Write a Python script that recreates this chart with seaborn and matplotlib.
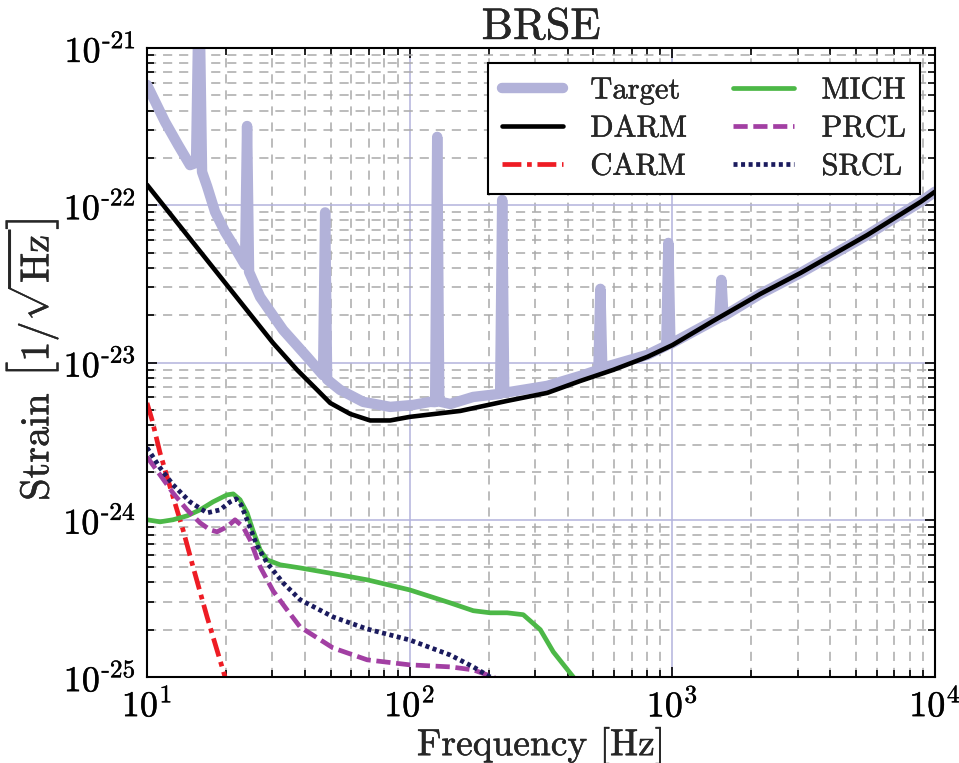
import numpy as np
import pandas as pd
import matplotlib
matplotlib.use("Agg")
import matplotlib.pyplot as plt
import matplotlib.patheffects as pe
import seaborn as sns
from matplotlib.ticker import LogLocator, FuncFormatter, NullFormatter

# ---------------------------------------------------------------- data
# Sensitivity target (with narrow resonance lines)
target_freq = [10.0, 11.71, 13.13, 14.58, 15.37, 15.78, 16.2, 16.93, 18.16, 19.82, 21.63,
               23.62, 24.04, 24.46, 26.95, 32.97, 40.7, 46.8, 47.66, 48.5, 54.3,
               66.5, 84.3, 103.1, 119.7, 125.0, 127.3, 129.6, 142.7, 174.6, 221.0, 225.0,
               229.0, 334.0, 447.0, 523.0, 532.0, 541.0, 803.0, 948.0, 965.5, 983.0,
               1510.0, 1537.0, 1565.0, 2163.0, 3076.0, 5533.0, 8810.0, 10000.0]
target_strain = [5.82e-22, 3.39e-22, 2.42e-22, 1.80e-22, 1.86e-22, 3.0e-21, 1.63e-22, 1.32e-22, 9.07e-23,
                 6.77e-23, 5.35e-23,
                 4.17e-23, 3.19e-22, 3.77e-23, 2.61e-23, 1.61e-23, 1.086e-23, 8.3e-24, 9.0e-23, 7.8e-24, 6.70e-24,
                 5.62e-24, 5.22e-24, 5.37e-24, 5.62e-24, 5.6e-24, 2.72e-22, 5.65e-24, 5.45e-24, 6.04e-24, 6.32e-24,
                 1.08e-22,
                 6.41e-24, 7.10e-24, 8.22e-24, 8.97e-24, 2.94e-23, 9.24e-24, 1.118e-23, 1.28e-23, 5.76e-23, 1.31e-23,
                 1.93e-23, 3.35e-23, 1.97e-23, 2.73e-23, 3.71e-23, 6.48e-23, 1.05e-22, 1.22e-22]

darm_freq = [10.0, 30.2, 37.27, 44.42, 49.79, 59.34, 70.7, 84.3, 100.0, 155.8, 235.0,
             334.0, 447.0, 596.0, 803.0, 1000.0, 1432.0, 2163.0, 3076.0, 5533.0, 8810.0, 10000.0]
darm_strain = [1.35e-22, 1.33e-23, 8.97e-24, 6.70e-24, 5.53e-24, 4.71e-24, 4.28e-24, 4.28e-24, 4.51e-24,
               4.92e-24, 5.70e-24, 6.41e-24, 7.64e-24, 8.98e-24, 1.086e-23, 1.29e-23, 1.84e-23,
               2.73e-23, 3.71e-23, 6.48e-23, 1.05e-22, 1.22e-22]

carm_freq = [10.0, 10.45, 11.21, 12.56, 13.71, 14.97, 16.93, 19.82, 21.08]
carm_strain = [5.53e-24, 4.32e-24, 2.66e-24, 1.40e-24, 8.63e-25, 5.02e-25, 2.41e-25, 1.0e-25, 7.2e-26]

mich_freq = [10.0, 11.21, 12.56, 14.21, 15.92, 17.84, 20.17, 21.3, 22.61, 24.04, 25.34, 26.95,
             28.65, 32.12, 38.28, 54.3, 68.9, 100.0, 142.7, 174.6, 202.6, 235.0, 270.6, 314.2,
             352.1, 419.6, 454.0]
mich_strain = [1.0e-24, 9.70e-25, 1.0e-24, 1.059e-24, 1.156e-24, 1.30e-24, 1.44e-24, 1.46e-24, 1.34e-24,
               1.106e-24, 8.50e-25, 6.44e-25, 5.56e-25, 5.17e-25, 4.94e-25, 4.46e-25, 4.15e-25, 3.58e-25,
               2.96e-25, 2.64e-25, 2.56e-25, 2.56e-25, 2.49e-25, 2.0e-25, 1.446e-25, 1.0e-25, 8.29e-26]

prcl_freq = [10.0, 11.21, 12.56, 14.21, 15.92, 17.38, 18.48, 20.17, 21.63, 23.21, 24.69, 26.95,
             30.2, 34.15, 38.28, 51.1, 68.9, 100.0, 142.7, 174.6, 208.0, 231.0]
prcl_strain = [2.51e-24, 1.93e-24, 1.48e-24, 1.156e-24, 9.56e-25, 8.63e-25, 8.38e-25, 9.02e-25, 9.99e-25,
               9.02e-25, 7.45e-25, 5.02e-25, 3.53e-25, 2.67e-25, 2.08e-25, 1.53e-25, 1.286e-25, 1.195e-25,
               1.16e-25, 1.11e-25, 1.0e-25, 8.92e-26]

srcl_freq = [10.0, 11.21, 12.56, 14.58, 16.93, 18.97, 20.72, 21.83, 22.81, 24.04, 26.24, 28.65,
             32.97, 38.28, 51.1, 68.9, 100.0, 142.7, 174.6, 202.6, 221.0]
srcl_strain = [2.87e-24, 2.14e-24, 1.67e-24, 1.30e-24, 1.106e-24, 1.156e-24, 1.30e-24, 1.358e-24, 1.244e-24,
               1.0e-24, 6.83e-25, 5.32e-25, 3.97e-25, 3.10e-25, 2.41e-25, 2.02e-25, 1.72e-25, 1.38e-25,
               1.16e-25, 1.0e-25, 9.05e-26]

x_ticks = [1e1, 1e2, 1e3, 1e4]
y_ticks = [1e-25, 1e-24, 1e-23, 1e-22, 1e-21]

# ---------------------------------------------------------------- style
sns.set_theme(style="ticks")
plt.rcParams.update({
    "font.family": "serif",
    "font.serif": ["cmr10"],
    "mathtext.fontset": "cm",
    "axes.unicode_minus": False,
    "axes.formatter.use_mathtext": True,
    "axes.linewidth": 1.5,
    "axes.edgecolor": "black",
})

fig = plt.figure(figsize=(9.59, 7.63), dpi=100)
ax = fig.add_axes([0.1533, 0.1127, 0.8217, 0.8244])
ax.set_axisbelow(True)

series = [
    ("Target", target_freq, target_strain,
     dict(color="#b2b2d9", lw=7.5, solid_joinstyle="round", solid_capstyle="round")),
    ("DARM", darm_freq, darm_strain, dict(color="black", lw=3.3)),
    ("CARM", carm_freq, carm_strain,
     dict(color="#ee1c24", lw=3.4, linestyle=(0, (4.0, 1.2, 1.0, 1.2)))),
    ("MICH", mich_freq, mich_strain, dict(color="#4cb847", lw=3.4)),
    ("PRCL", prcl_freq, prcl_strain,
     dict(color="#a23fa3", lw=3.4, linestyle=(0, (3.0, 1.2)))),
    ("SRCL", srcl_freq, srcl_strain,
     dict(color="#1b1b5e", lw=3.4, linestyle=(0, (0.85, 0.75)), dash_capstyle="butt")),
]

for name, fr, st, kw in series:
    df = pd.DataFrame({"freq": fr, "strain": st})
    sns.lineplot(data=df, x="freq", y="strain", ax=ax, label=name,
                 estimator=None, sort=False, **kw)

ax.set_xscale("log")
ax.set_yscale("log")
ax.set_xlim(10, 1e4)
ax.set_ylim(1e-25, 1e-21)


def pow_label(v, pos):
    e = int(round(np.log10(v)))
    if e < 0:
        return r"$10^{\text{-}%d}$" % (-e)
    return r"$10^{%d}$" % e


ax.xaxis.set_minor_locator(LogLocator(base=10, subs=np.arange(2, 10)))
ax.yaxis.set_minor_locator(LogLocator(base=10, subs=np.arange(2, 10)))
ax.set_xticks(x_ticks)
ax.set_yticks(y_ticks)
ax.xaxis.set_major_formatter(FuncFormatter(pow_label))
ax.yaxis.set_major_formatter(FuncFormatter(pow_label))
ax.xaxis.set_minor_formatter(NullFormatter())
ax.yaxis.set_minor_formatter(NullFormatter())

ax.tick_params(which="both", direction="in", top=True, right=True,
               colors="black", width=1.2, labelsize=26)
ax.tick_params(which="major", length=7, pad=8)
ax.tick_params(which="minor", length=5)

ax.grid(which="major", color="#b3b3dd", lw=1.1, ls="-")
ax.grid(which="minor", color="#aaaaaa", lw=1.1, ls=(0, (6, 4.5)))

ax.set_xlabel("Frequency [Hz]", fontsize=27, labelpad=2)
ax.set_ylabel(r"Strain $\left[1/\sqrt{\mathrm{Hz}}\right]$", fontsize=29, labelpad=2)
ax.set_title("BRSE", fontsize=32, pad=5)

leg = ax.legend(loc="upper right", ncol=2, fontsize=22, frameon=True,
                fancybox=False, framealpha=1.0, edgecolor="black",
                handlelength=2.0, handletextpad=0.9, columnspacing=1.5,
                labelspacing=0.35, borderpad=0.45, borderaxespad=0.5)
leg.get_frame().set_linewidth(1.5)

# slightly heavier strokes for all text
stroke = [pe.withStroke(linewidth=0.3, foreground="#111111")]
texts = [ax.title, ax.xaxis.label, ax.yaxis.label] + leg.get_texts()
texts += ax.get_xticklabels() + ax.get_yticklabels()
for t in texts:
    t.set_path_effects(stroke)

fig.savefig("out.png", dpi=100)
